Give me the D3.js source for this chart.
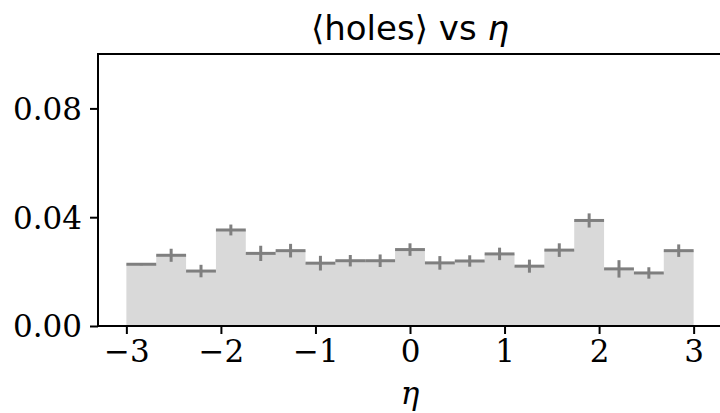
<!DOCTYPE html>
<html>
<head>
<meta charset="utf-8">
<script src="https://cdn.jsdelivr.net/npm/d3@7"></script>
<style>
  body { margin: 0; background: #fff; }
  svg { display: block; }
</style>
</head>
<body>
<div id="chart"></div>
<script>
// Mean number of holes per eta bin (19 bins from -3 to 3)
var etaMin = -3, etaMax = 3, nBins = 19;
var holeMeans = [0.0227, 0.0260, 0.0202, 0.0353, 0.0267, 0.0277, 0.0231, 0.0240, 0.0240, 0.0281,
                 0.0232, 0.0239, 0.0265, 0.0220, 0.0279, 0.0388, 0.0210, 0.0195, 0.0277];
var holeErrors = [0.0004, 0.0024, 0.0023, 0.0020, 0.0028, 0.0025, 0.0027, 0.0021, 0.0023, 0.0023,
                  0.0025, 0.0021, 0.0023, 0.0024, 0.0025, 0.0026, 0.0032, 0.0021, 0.0023];
var xTicks = [-3, -2, -1, 0, 1, 2, 3];
var yTicks = [0.00, 0.04, 0.08];

var W = 720, H = 413;
var margin = {top: 54, right: -2, bottom: 87, left: 98};
var width = W - margin.left - margin.right;
var height = H - margin.top - margin.bottom;

var binWidth = (etaMax - etaMin) / nBins;
var bins = holeMeans.map(function (v, i) {
    return {x0: etaMin + i * binWidth, x1: etaMin + (i + 1) * binWidth, value: v, err: holeErrors[i]};
});

var x = d3.scaleLinear().domain([-3.3, 3.3]).range([0, width]);
var y = d3.scaleLinear().domain([0, 0.1]).range([height, 0]);

var svg = d3.select("#chart").append("svg")
    .attr("width", W).attr("height", H)
    .style("overflow", "hidden");

var g = svg.append("g")
    .attr("transform", "translate(" + margin.left + "," + margin.top + ")");

// filled histogram
var area = d3.area()
    .curve(d3.curveStepAfter)
    .x(function (d) { return x(d.x); })
    .y0(y(0))
    .y1(function (d) { return y(d.v); });
var steps = bins.map(function (b) { return {x: b.x0, v: b.value}; });
steps.push({x: etaMax, v: bins[bins.length - 1].value});
g.append("path")
    .datum(steps)
    .attr("fill", "#d9d9d9")
    .attr("d", area);

// error bars (horizontal = bin width, vertical = error)
var eb = g.selectAll(".eb").data(bins).enter().append("g").attr("class", "eb");
eb.append("line")
    .attr("x1", function (d) { return x(d.x0); })
    .attr("x2", function (d) { return x(d.x1); })
    .attr("y1", function (d) { return y(d.value); })
    .attr("y2", function (d) { return y(d.value); })
    .attr("stroke", "#7f7f7f").attr("stroke-width", 3);
eb.append("line")
    .attr("x1", function (d) { return x((d.x0 + d.x1) / 2); })
    .attr("x2", function (d) { return x((d.x0 + d.x1) / 2); })
    .attr("y1", function (d) { return y(d.value - d.err); })
    .attr("y2", function (d) { return y(d.value + d.err); })
    .attr("stroke", "#7f7f7f").attr("stroke-width", 3);

// axes
var xAxis = g.append("g")
    .attr("transform", "translate(0," + height + ")")
    .call(d3.axisBottom(x).tickValues(xTicks).tickSize(8).tickPadding(6)
        .tickFormat(function (d) { return d < 0 ? "\u2212" + Math.abs(d) : d; }));
var yAxis = g.append("g")
    .call(d3.axisLeft(y).tickValues(yTicks).tickSize(8).tickPadding(8).tickFormat(d3.format(".2f")));

[xAxis, yAxis].forEach(function (a) {
    a.select(".domain").remove();
    a.selectAll(".tick line").attr("stroke", "#000").attr("stroke-width", 2);
    a.selectAll("text")
        .attr("fill", "#000")
        .style("font-family", "'DejaVu Serif', serif")
        .style("font-size", "31px");
});
yAxis.selectAll("text").attr("dy", "0.35em");
xAxis.selectAll("text").attr("dy", "0.72em");

// spines
g.append("rect")
    .attr("x", 0).attr("y", 0)
    .attr("width", width).attr("height", height)
    .attr("fill", "none").attr("stroke", "#000").attr("stroke-width", 2);

// title
var title = svg.append("text")
    .attr("x", margin.left + width / 2)
    .attr("y", 40)
    .attr("text-anchor", "middle")
    .style("font-family", "'DejaVu Sans', sans-serif")
    .style("font-size", "34px");
title.append("tspan").text("\u27E8holes\u27E9 vs ");
title.append("tspan").style("font-style", "italic").text("\u03B7");

// x label
svg.append("text")
    .attr("x", margin.left + width / 2)
    .attr("y", 404)
    .attr("text-anchor", "middle")
    .style("font-family", "'DejaVu Serif', serif")
    .style("font-style", "italic")
    .style("font-size", "31px")
    .text("\u03B7");
</script>
</body>
</html>
